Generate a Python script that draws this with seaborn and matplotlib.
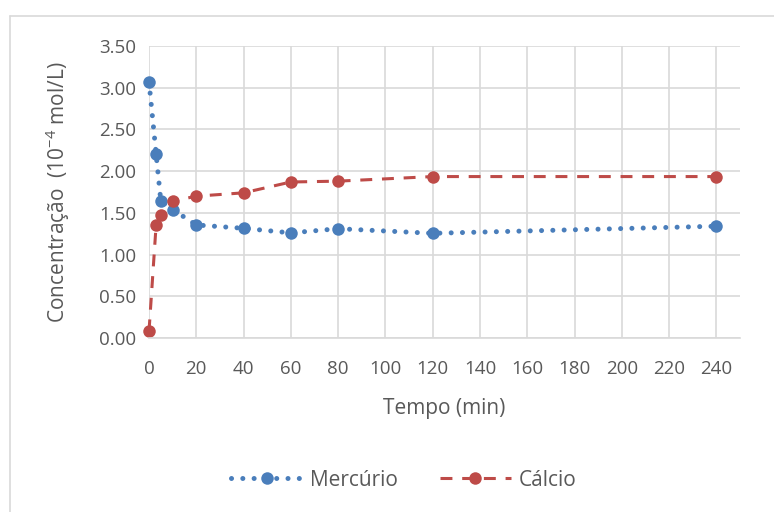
import numpy as np
import pandas as pd
import matplotlib
matplotlib.use("Agg")
import matplotlib.pyplot as plt
import seaborn as sns
from matplotlib.lines import Line2D

tempo = [0, 3, 5, 10, 20, 40, 60, 80, 120, 240]
mercurio = [3.07, 2.21, 1.64, 1.54, 1.355, 1.315, 1.26, 1.31, 1.255, 1.34]
calcio = [0.08, 1.35, 1.48, 1.64, 1.70, 1.74, 1.87, 1.88, 1.935, 1.935]
series_names = ["Mercúrio", "Cálcio"]
x_ticks = list(range(0, 241, 20))
y_ticks = [0, 0.5, 1.0, 1.5, 2.0, 2.5, 3.0, 3.5]

df = pd.DataFrame({
    "Tempo": tempo * 2,
    "Conc": mercurio + calcio,
    "Serie": [series_names[0]] * len(tempo) + [series_names[1]] * len(tempo),
})

sns.set_theme(style="white")
plt.rcParams["font.family"] = ["Open Sans", "DejaVu Sans"]
plt.rcParams["mathtext.default"] = "regular"

W, H = 774, 512
fig = plt.figure(figsize=(W / 100, H / 100), dpi=100)
ax = fig.add_axes([149 / W, 1 - 338 / H, (740 - 149) / W, (338 - 46) / H])

blue = "#4a7ebb"
red = "#be4b48"
text_c = "#595959"

blue_ls = (0, (0.01, 2.25))
red_ls = (0, (3.9, 3.2))
msz = 9

sns.lineplot(data=df[df.Serie == series_names[0]], x="Tempo", y="Conc", ax=ax,
             color=blue, linestyle=blue_ls, linewidth=3.6,
             marker="o", markersize=msz, markeredgewidth=0, legend=False, sort=False)
sns.lineplot(data=df[df.Serie == series_names[1]], x="Tempo", y="Conc", ax=ax,
             color=red, linestyle=red_ls, linewidth=2.2,
             marker="o", markersize=msz, markeredgewidth=0, legend=False, sort=False)
ax.lines[0].set_dash_capstyle("round")
for l in ax.lines:
    l.set_clip_on(False)

ax.set_xlim(0, 250)
ax.set_ylim(0, 3.5)
ax.set_xticks(x_ticks)
ax.set_yticks(y_ticks)
ax.set_yticklabels([f"{v:.2f}" for v in y_ticks])
ax.grid(True, color="#d9d9d9", linewidth=1.2)
ax.set_axisbelow(True)
for s in ["top", "right", "left"]:
    ax.spines[s].set_visible(False)
ax.spines["bottom"].set_color("#d9d9d9")
ax.spines["bottom"].set_linewidth(1.2)
ax.tick_params(axis="both", length=0, labelsize=13.5, labelcolor=text_c)
ax.tick_params(axis="x", pad=16)
ax.tick_params(axis="y", pad=9)
ax.set_xlabel("Tempo (min)", fontsize=15, color=text_c, labelpad=14)
ax.set_ylabel("Concentração  (10$^{-4}$ mol/L)", fontsize=15, color=text_c, labelpad=20)

handles = [
    Line2D([0], [0], color=blue, linestyle=blue_ls, linewidth=3.6,
           dash_capstyle="round", marker="o", markersize=msz, markeredgewidth=0),
    Line2D([0], [0], color=red, linestyle=red_ls, linewidth=2.2,
           marker="o", markersize=msz, markeredgewidth=0),
]
fig.legend(handles, series_names, loc="center", bbox_to_anchor=(404 / W, 1 - 480 / H),
           ncol=2, frameon=False, fontsize=15, labelcolor=text_c,
           handlelength=3.4, columnspacing=2.0, handletextpad=0.4)

# chart area border (left/top visible)
fig.add_artist(Line2D([10 / W, 10 / W], [0, 1 - 16 / H], color="#d9d9d9", linewidth=1.2,
                      transform=fig.transFigure))
fig.add_artist(Line2D([10 / W, 1], [1 - 16 / H, 1 - 16 / H], color="#d9d9d9", linewidth=1.2,
                      transform=fig.transFigure))

fig.savefig("out.png", dpi=100)
